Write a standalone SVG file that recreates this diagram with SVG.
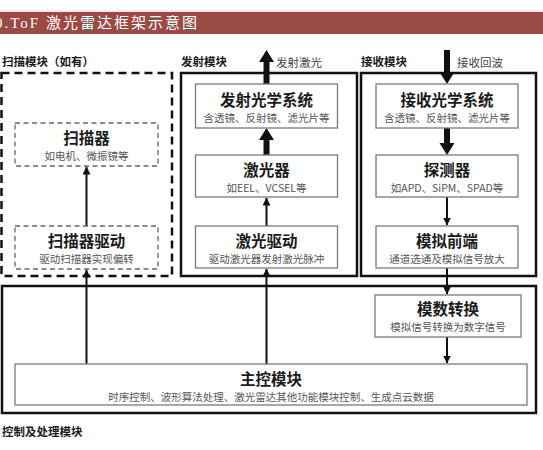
<svg xmlns="http://www.w3.org/2000/svg" width="543" height="450" viewBox="0 0 543 450">
<defs>
<marker id="ah" viewBox="0 0 8 8" refX="7.5" refY="4" markerWidth="8" markerHeight="8" markerUnits="userSpaceOnUse" orient="auto">
<path d="M0,0 L8,4 L0,8 Z" fill="#111"/>
</marker>
</defs>
<style>
.t{font-family:"Noto Sans CJK SC","Noto Sans",sans-serif}
.ttl{font-size:15.5px;font-weight:700;fill:#1a1a1a;text-anchor:middle}
.sub{font-size:10.5px;fill:#555;text-anchor:middle}
.lbl{font-size:11.5px;font-weight:700;fill:#1a1a1a}
.note{font-size:11.5px;fill:#444}
.ib{fill:#fff;stroke:#7a7a7a;stroke-width:1.3}
.db{fill:#fff;stroke:#666;stroke-width:1.3;stroke-dasharray:5 3.5}
.ob{fill:none;stroke:#111;stroke-width:2.5}
.dob{fill:none;stroke:#111;stroke-width:2.5;stroke-dasharray:8 5}
.ln{fill:none;stroke:#111;stroke-width:2}
.thick{fill:#111}
</style>
<rect width="543" height="450" fill="#fff"/>
<line x1="0" y1="11" x2="543" y2="11" stroke="#ddd" stroke-width="1"/>
<g id="title">
<rect x="0" y="12" width="543" height="22" fill="#9a4a45"/>
<text x="-5" y="28" font-family="Liberation Serif,'Noto Sans CJK SC',serif" font-size="15" fill="#fff" letter-spacing="2">0.ToF 激光雷达框架示意图</text>
</g>
<g id="control-module">
<rect class="ob" x="2" y="286" width="534" height="127"/>
<text class="t lbl" x="2" y="436">控制及处理模块</text>
</g>
<g id="scan-module">
<rect class="dob" x="1.5" y="73" width="170.5" height="203"/>
<text class="t lbl" x="2" y="66">扫描模块（如有）</text>
</g>
<g id="emit-module">
<rect class="ob" x="181" y="73" width="176" height="203"/>
<text class="t lbl" x="181" y="66">发射模块</text>
</g>
<g id="recv-module">
<rect class="ob" x="361" y="73" width="175" height="203"/>
<text class="t lbl" x="361" y="66">接收模块</text>
</g>
<g id="connectors">
<line class="ln" x1="86.5" y1="226" x2="86.5" y2="167" marker-end="url(#ah)"/>
<line class="ln" x1="86.5" y1="364" x2="86.5" y2="270" marker-end="url(#ah)"/>
<line class="ln" x1="266.5" y1="364" x2="266.5" y2="269" marker-end="url(#ah)"/>
<line class="ln" x1="266.5" y1="226" x2="266.5" y2="198" marker-end="url(#ah)"/>
<path class="thick" d="M263.5,155 L263.5,140 L259,140 L266.5,128 L274,140 L269.5,140 L269.5,155 Z"/>
<path class="thick" d="M263.5,84 L263.5,62 L259,62 L266.5,50 L274,62 L269.5,62 L269.5,84 Z"/>
<path class="thick" d="M444,50 L444,72 L439.5,72 L447,84 L454.5,72 L450,72 L450,50 Z"/>
<path class="thick" d="M444,128 L444,143 L439.5,143 L447,155 L454.5,143 L450,143 L450,128 Z"/>
<line class="ln" x1="447" y1="197" x2="447" y2="225" marker-end="url(#ah)"/>
<line class="ln" x1="447" y1="268" x2="447" y2="294" marker-end="url(#ah)"/>
<line class="ln" x1="447" y1="337" x2="447" y2="363" marker-end="url(#ah)"/>
<text class="t note" x="276" y="67">发射激光</text>
<text class="t note" x="457" y="67">接收回波</text>
</g>
<g id="scanner">
<rect class="db" x="15" y="123" width="143" height="43"/>
<text class="t ttl" x="86.5" y="144">扫描器</text>
<text class="t sub" x="86.5" y="160">如电机、微振镜等</text>
</g>
<g id="scanner-drive">
<rect class="db" x="15" y="226" width="143" height="43"/>
<text class="t ttl" x="86.5" y="247">扫描器驱动</text>
<text class="t sub" x="86.5" y="263">驱动扫描器实现偏转</text>
</g>
<g id="emit-optics">
<rect class="ib" x="195.5" y="84" width="142" height="44"/>
<text class="t ttl" x="266.5" y="106">发射光学系统</text>
<text class="t sub" x="266.5" y="122">含透镜、反射镜、滤光片等</text>
</g>
<g id="laser">
<rect class="ib" x="195.5" y="155" width="142" height="42"/>
<text class="t ttl" x="266.5" y="176">激光器</text>
<text class="t sub" x="266.5" y="192">如EEL、VCSEL等</text>
</g>
<g id="laser-drive">
<rect class="ib" x="195.5" y="226" width="142" height="42"/>
<text class="t ttl" x="266.5" y="247">激光驱动</text>
<text class="t sub" x="266.5" y="263">驱动激光器发射激光脉冲</text>
</g>
<g id="recv-optics">
<rect class="ib" x="376" y="84" width="142" height="44"/>
<text class="t ttl" x="447" y="106">接收光学系统</text>
<text class="t sub" x="447" y="122">含透镜、反射镜、滤光片等</text>
</g>
<g id="detector">
<rect class="ib" x="376" y="155" width="142" height="42"/>
<text class="t ttl" x="447" y="176">探测器</text>
<text class="t sub" x="447" y="192">如APD、SiPM、SPAD等</text>
</g>
<g id="analog-frontend">
<rect class="ib" x="376" y="226" width="142" height="42"/>
<text class="t ttl" x="447" y="247">模拟前端</text>
<text class="t sub" x="447" y="263">通道选通及模拟信号放大</text>
</g>
<g id="adc">
<rect class="ib" x="375" y="295" width="146" height="42"/>
<text class="t ttl" x="448" y="315">模数转换</text>
<text class="t sub" x="448" y="331">模拟信号转换为数字信号</text>
</g>
<g id="main-control">
<rect class="ib" x="15" y="364" width="512" height="41"/>
<text class="t ttl" x="271" y="385">主控模块</text>
<text class="t sub" x="271" y="401">时序控制、波形算法处理、激光雷达其他功能模块控制、生成点云数据</text>
</g>
</svg>
